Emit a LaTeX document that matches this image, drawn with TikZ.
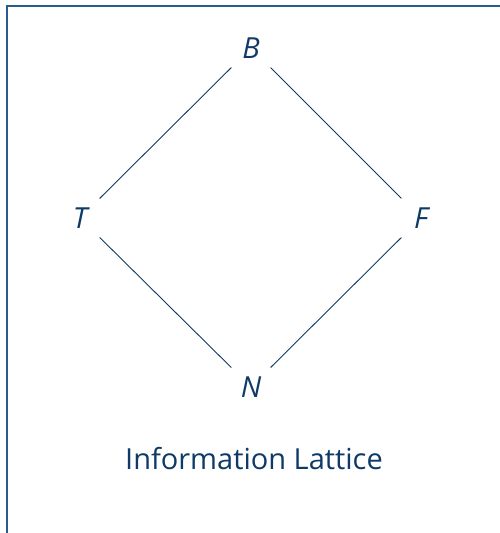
\documentclass[tikz,border=0pt]{standalone}
\usepackage{fontspec}
\setmainfont{Open Sans}
\definecolor{ink}{HTML}{0D3A66}
\definecolor{frame}{HTML}{2B5A8E}
\begin{document}
\begin{tikzpicture}[x=1pt,y=-1pt,
  elem/.style={circle,minimum size=55pt,inner sep=0pt,text=ink,font=\fontsize{29}{34}\selectfont\itshape},
  edge/.style={draw=ink,line width=0.9pt},
  caption/.style={text=ink,font=\fontsize{29}{34}\selectfont}]
\useasboundingbox (0,0) rectangle (500,533);
\draw[frame,line width=2pt] (500,6) -- (7,6) -- (7,533);
\node[elem] (B) at (251,48) {B};
\node[elem] (T) at (80,218) {T};
\node[elem] (F) at (421,218) {F};
\node[elem] (N) at (251,387) {N};
\draw[edge] (B) -- (T);
\draw[edge] (B) -- (F);
\draw[edge] (T) -- (N);
\draw[edge] (F) -- (N);
\node[caption] (cap) at (254,459) {Information Lattice};
\end{tikzpicture}
\end{document}
